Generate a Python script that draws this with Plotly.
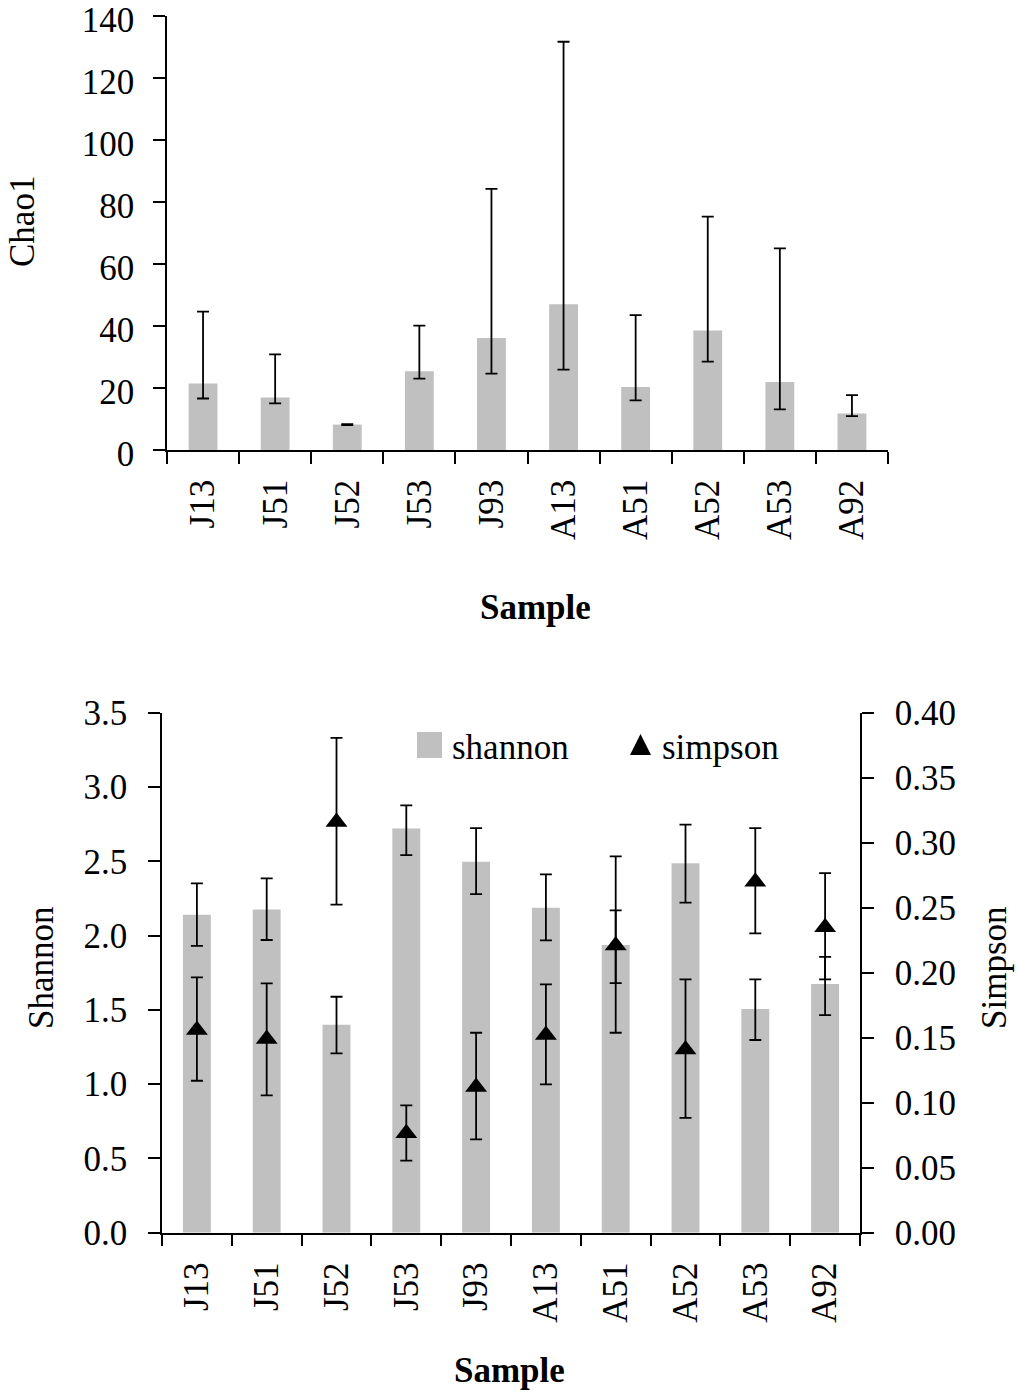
import plotly.graph_objects as go

# ---------------- data ----------------
samples = ["J13", "J51", "J52", "J53", "J93", "A13", "A51", "A52", "A53", "A92"]

chao1 = [21.4, 16.9, 8.2, 25.4, 36.1, 47.0, 20.3, 38.5, 21.9, 11.8]
chao1_upper = [44.6, 30.8, 8.3, 40.1, 84.2, 131.6, 43.5, 75.2, 65.0, 17.7]
chao1_lower = [16.6, 15.0, 8.0, 23.0, 24.6, 25.9, 16.0, 28.5, 13.1, 10.9]

shannon = [2.14, 2.176, 1.400, 2.72, 2.497, 2.187, 1.936, 2.486, 1.505, 1.674]
shannon_upper = [2.351, 2.385, 1.588, 2.876, 2.723, 2.412, 2.170, 2.746, 1.705, 1.857]
shannon_lower = [1.931, 1.970, 1.207, 2.542, 2.279, 1.968, 1.680, 2.221, 1.297, 1.465]

simpson = [0.156, 0.149, 0.316, 0.0765, 0.112, 0.152, 0.221, 0.141, 0.270, 0.235]
simpson_upper = [0.1964, 0.1918, 0.3807, 0.098, 0.1538, 0.191, 0.2895, 0.1949, 0.3112, 0.2766]
simpson_lower = [0.1169, 0.1057, 0.2523, 0.0554, 0.0718, 0.1141, 0.1538, 0.0884, 0.2303, 0.1949]

chao1_ticks = [0, 20, 40, 60, 80, 100, 120, 140]
shannon_ticks = [0.0, 0.5, 1.0, 1.5, 2.0, 2.5, 3.0, 3.5]
simpson_ticks = [0.00, 0.05, 0.10, 0.15, 0.20, 0.25, 0.30, 0.35, 0.40]

# ---------------- style ----------------
W, H = 1017, 1394
FONT = "Liberation Serif, Times New Roman, serif"
FS = 35
BAR_COLOR = "#c0c0c0"
ERR_W = 1.8


def px_x(p):
    return p / W


def px_y(p):
    return (H - p) / H


def diff(a, b):
    return [x - y for x, y in zip(a, b)]


fig = go.Figure()

# top: Chao1 bars
fig.add_trace(go.Bar(
    x=samples, y=chao1, xaxis="x", yaxis="y",
    marker=dict(color=BAR_COLOR, line=dict(width=0)),
    width=0.4, showlegend=False,
    error_y=dict(type="data", symmetric=False,
                 array=diff(chao1_upper, chao1),
                 arrayminus=diff(chao1, chao1_lower),
                 color="black", thickness=ERR_W, width=6),
))

# bottom: Shannon bars
fig.add_trace(go.Bar(
    x=samples, y=shannon, xaxis="x2", yaxis="y2", name="shannon",
    marker=dict(color=BAR_COLOR, line=dict(width=0)),
    width=0.4, showlegend=False,
    error_y=dict(type="data", symmetric=False,
                 array=diff(shannon_upper, shannon),
                 arrayminus=diff(shannon, shannon_lower),
                 color="black", thickness=ERR_W, width=6),
))

# bottom: Simpson triangles
fig.add_trace(go.Scatter(
    x=samples, y=simpson, xaxis="x2", yaxis="y3", name="simpson",
    mode="markers",
    marker=dict(symbol="triangle-up", size=19, color="black"),
    showlegend=False,
    error_y=dict(type="data", symmetric=False,
                 array=diff(simpson_upper, simpson),
                 arrayminus=diff(simpson, simpson_lower),
                 color="black", thickness=ERR_W, width=6),
))

axis_common = dict(
    showline=True, linecolor="black", linewidth=1.5,
    ticks="outside", ticklen=12, tickwidth=1.5, tickcolor="black",
    showgrid=False, zeroline=False, automargin=False,
    ticklabeloverflow="allow",
    tickfont=dict(family=FONT, size=FS, color="black"),
)

fig.update_layout(
    width=W, height=H,
    margin=dict(l=0, r=0, t=0, b=0, pad=0, autoexpand=False),
    paper_bgcolor="white", plot_bgcolor="white",
    font=dict(family=FONT, size=FS, color="black"),
    bargap=0.6,
    xaxis=dict(domain=[px_x(167), px_x(888)], anchor="y",
               type="category", range=[-0.5, 9.5], tickson="boundaries",
               tickangle=-90, ticklabelstandoff=14, **axis_common),
    yaxis=dict(domain=[px_y(450), px_y(15.7)], anchor="x",
               range=[0, 140], tickvals=chao1_ticks,
               ticklabelstandoff=12, ticklabelshift=4, **axis_common),
    xaxis2=dict(domain=[px_x(162), px_x(860)], anchor="y2",
                type="category", range=[-0.5, 9.5], tickson="boundaries",
                tickangle=-90, ticklabelstandoff=14, **axis_common),
    yaxis2=dict(domain=[px_y(1232.7), px_y(712.7)], anchor="x2",
                range=[0, 3.5], tickvals=shannon_ticks, tickformat=".1f",
                ticklabelstandoff=14, **axis_common),
    yaxis3=dict(overlaying="y2", anchor="x2", side="right",
                range=[0, 0.4], tickvals=simpson_ticks, tickformat=".2f",
                ticklabelstandoff=14, **axis_common),
)

# axis titles
ann = [
    dict(text="Chao1", x=px_x(22), y=px_y(222), textangle=-90),
    dict(text="<b>Sample</b>", x=px_x(535), y=px_y(607), textangle=0),
    dict(text="Shannon", x=px_x(42), y=px_y(968), textangle=-90),
    dict(text="Simpson", x=px_x(995), y=px_y(968), textangle=-90),
    dict(text="<b>Sample</b>", x=px_x(510), y=px_y(1370), textangle=0),
]
for a in ann:
    fig.add_annotation(xref="paper", yref="paper", xanchor="center", yanchor="middle",
                       showarrow=False, font=dict(family=FONT, size=FS, color="black"), **a)

# legend (drawn)
fig.add_shape(type="rect", xref="paper", yref="paper",
              x0=px_x(417), x1=px_x(442), y0=px_y(758), y1=px_y(732),
              fillcolor=BAR_COLOR, line=dict(width=0))
fig.add_annotation(text="shannon", xref="paper", yref="paper",
                   x=px_x(450), y=px_y(747), xanchor="left", yanchor="middle",
                   showarrow=False, font=dict(family=FONT, size=FS, color="black"))
tri = "M {:.5f},{:.5f} L {:.5f},{:.5f} L {:.5f},{:.5f} Z".format(
    px_x(630), px_y(755), px_x(651), px_y(755), px_x(640.5), px_y(734))
fig.add_shape(type="path", xref="paper", yref="paper", path=tri,
              fillcolor="black", line=dict(width=0))
fig.add_annotation(text="simpson", xref="paper", yref="paper",
                   x=px_x(660), y=px_y(747), xanchor="left", yanchor="middle",
                   showarrow=False, font=dict(family=FONT, size=FS, color="black"))

fig.write_html("out.html",
               config={"displayModeBar": False},
               post_script="document.body.style.margin='0';document.body.style.overflow='hidden';")
